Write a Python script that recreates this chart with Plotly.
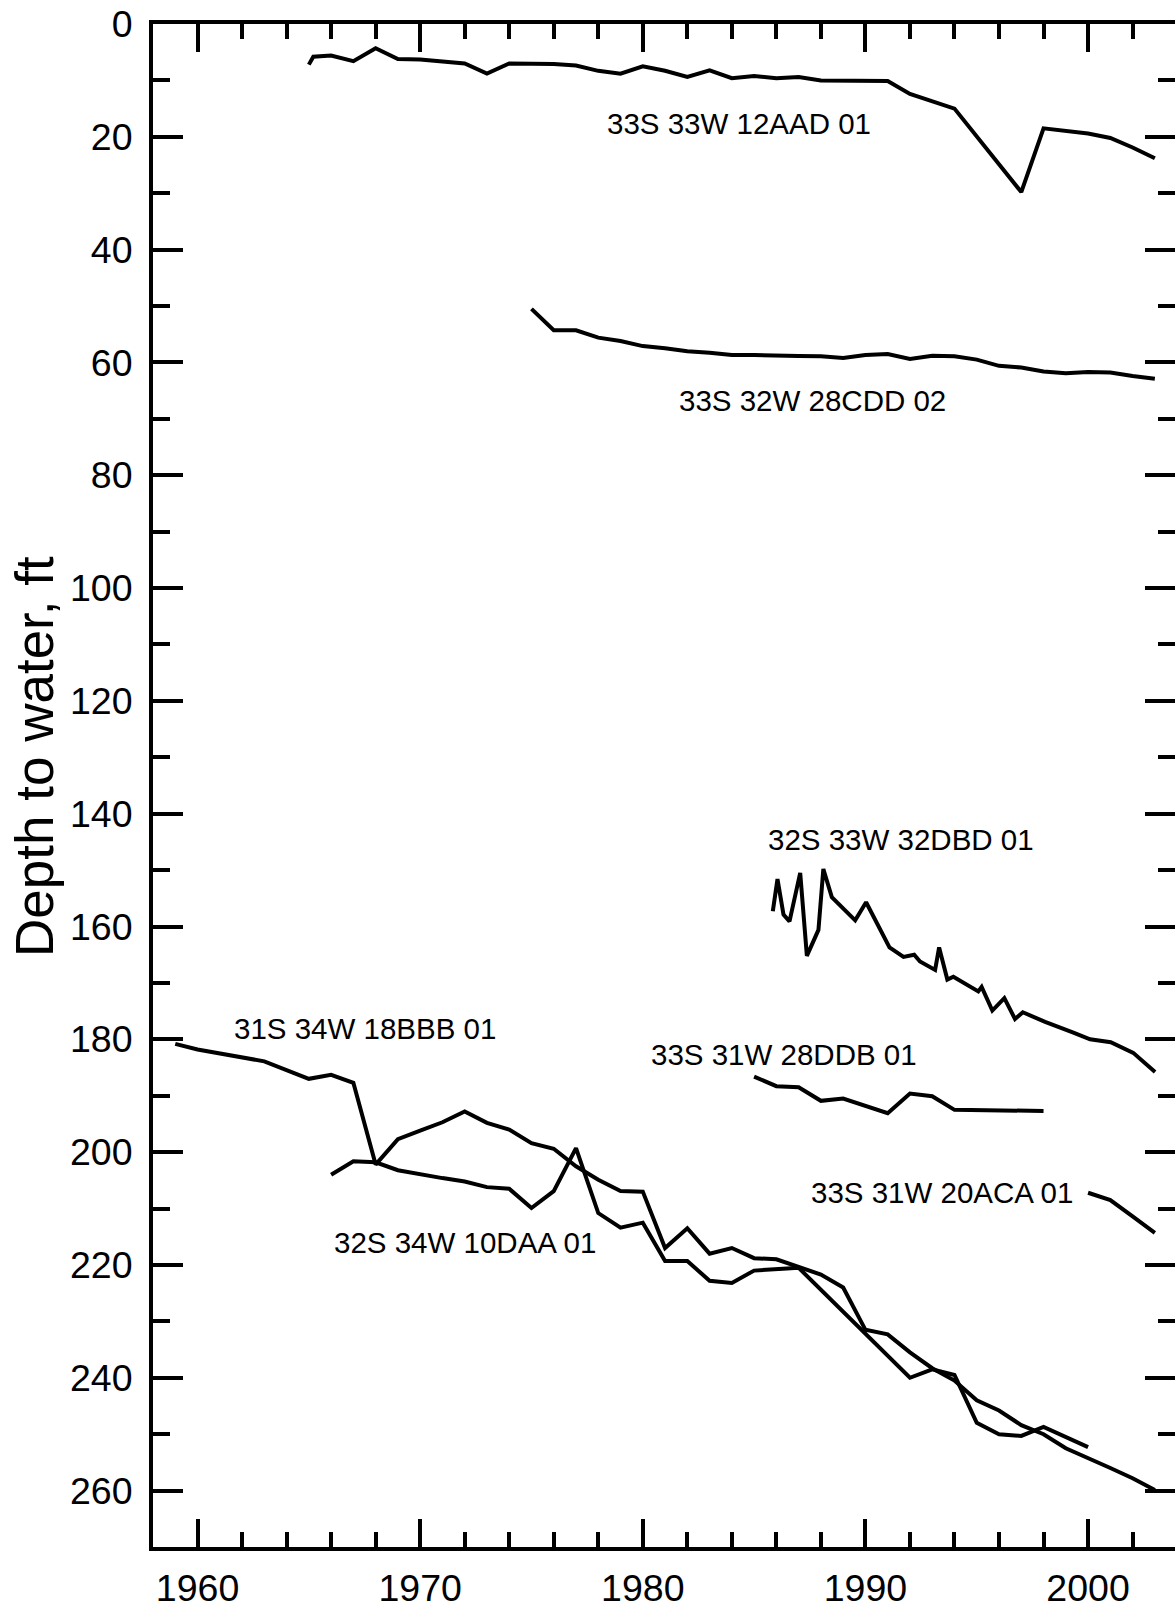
import plotly.graph_objects as go

# ---- data (year, depth to water in ft) ----
w12AAD_year = [1965.0, 1965.2, 1966, 1967, 1968, 1969, 1970, 1971, 1972, 1973, 1974, 1975, 1976, 1977,
               1978, 1979, 1980, 1981, 1982, 1983, 1984, 1985, 1986, 1987, 1988, 1991, 1992, 1994,
               1997, 1998, 1999, 2000, 2001, 2002, 2003]
w12AAD_depth = [7.2, 5.8, 5.6, 6.6, 4.3, 6.2, 6.3, 6.7, 7.0, 8.8, 7.0, 7.05, 7.1, 7.35,
                8.3, 8.8, 7.5, 8.3, 9.4, 8.2, 9.6, 9.2, 9.6, 9.4, 10.0, 10.1, 12.4, 15.0,
                29.8, 18.5, 18.9, 19.4, 20.2, 21.9, 23.8]

w28CDD_year = [1975, 1976, 1977, 1978, 1979, 1980, 1981, 1982, 1983, 1984, 1985, 1986, 1987, 1988,
               1989, 1990, 1991, 1992, 1993, 1994, 1995, 1996, 1997, 1998, 1999, 2000, 2001, 2002, 2003]
w28CDD_depth = [50.5, 54.3, 54.3, 55.6, 56.2, 57.1, 57.5, 58.0, 58.3, 58.7, 58.7, 58.7, 58.85, 58.9,
                59.2, 58.7, 58.5, 59.4, 58.8, 58.9, 59.5, 60.6, 60.9, 61.6, 61.9, 61.7, 61.8, 62.4, 62.9]

w32DBD_year = [1985.84, 1986.05, 1986.32, 1986.59, 1987.07, 1987.37, 1987.89, 1988.11, 1988.49, 1989.54,
               1990.03, 1991.08, 1991.71, 1992.19, 1992.45, 1993.13, 1993.31, 1993.68, 1993.95, 1995.07,
               1995.22, 1995.70, 1996.24, 1996.72, 1997.07, 1998.07, 1999.34, 2000.09, 2001.02, 2002.03, 2003.01]
w32DBD_depth = [157.3, 151.6, 157.9, 159.1, 150.5, 165.2, 160.6, 149.8, 154.8, 158.9,
                155.7, 163.7, 165.4, 165.0, 166.2, 167.7, 163.7, 169.4, 168.9, 171.5,
                170.7, 174.9, 172.7, 176.4, 175.2, 176.9, 178.8, 180.0, 180.5, 182.4, 185.8]

w28DDB_year = [1985, 1986, 1987, 1988, 1989, 1990, 1991, 1992, 1993, 1994, 1998]
w28DDB_depth = [186.6, 188.3, 188.5, 190.9, 190.5, 191.8, 193.1, 189.6, 190.1, 192.5, 192.7]

w20ACA_year = [2000, 2001, 2002, 2003]
w20ACA_depth = [207.2, 208.5, 211.4, 214.3]

w18BBB_year = [1959, 1960, 1963, 1965, 1966, 1967, 1968, 1969, 1970, 1971, 1972, 1973, 1974, 1975,
               1976, 1977, 1978, 1979, 1980, 1981, 1982, 1983, 1984, 1985, 1986, 1987, 1988, 1989,
               1990, 1991, 1992, 1993, 1994, 1995, 1996, 1997, 1998, 1999, 2000, 2001, 2002, 2003]
w18BBB_depth = [180.8, 181.8, 183.9, 187.0, 186.3, 187.7, 202.2, 197.7, 196.2, 194.7, 192.8, 194.8, 196.0, 198.4,
                199.4, 202.5, 204.9, 206.9, 207.0, 217.0, 213.5, 218.0, 217.0, 218.8, 219.0, 220.3, 221.7, 224.0,
                231.5, 232.3, 235.5, 238.3, 240.5, 244.0, 245.8, 248.4, 250.0, 252.5, 254.2, 256.0, 257.8, 259.9]

w10DAA_year = [1966, 1967, 1968, 1969, 1971, 1972, 1973, 1974, 1975, 1976, 1977, 1978, 1979, 1980,
               1981, 1982, 1983, 1984, 1985, 1986, 1987, 1992, 1993, 1994, 1995, 1996, 1997, 1998, 2000]
w10DAA_depth = [204.0, 201.6, 201.8, 203.2, 204.6, 205.2, 206.2, 206.5, 209.9, 206.9, 199.3, 210.8, 213.4, 212.5,
                219.3, 219.3, 222.8, 223.2, 221.0, 220.8, 220.5, 240.0, 238.5, 239.5, 248.0, 250.0, 250.3, 248.7, 252.3]

series = [
    (w12AAD_year, w12AAD_depth),
    (w28CDD_year, w28CDD_depth),
    (w32DBD_year, w32DBD_depth),
    (w28DDB_year, w28DDB_depth),
    (w20ACA_year, w20ACA_depth),
    (w18BBB_year, w18BBB_depth),
    (w10DAA_year, w10DAA_depth),
]

label_text = ["33S 33W 12AAD 01", "33S 32W 28CDD 02", "32S 33W 32DBD 01", "33S 31W 28DDB 01",
              "33S 31W 20ACA 01", "31S 34W 18BBB 01", "32S 34W 10DAA 01"]
label_x = [1984.33, 1987.63, 1991.61, 1986.33, 1993.43, 1967.53, 1972.02]
label_y = [17.6, 66.8, 144.5, 182.7, 207.2, 178.0, 216.1]

x_tickvals = [1960, 1970, 1980, 1990, 2000]
y_tickvals = [0, 20, 40, 60, 80, 100, 120, 140, 160, 180, 200, 220, 240, 260]

FONT = "Liberation Sans, Arial, sans-serif"

fig = go.Figure()
for xs, ys in series:
    fig.add_trace(go.Scatter(x=xs, y=ys, mode="lines",
                             line=dict(color="black", width=4),
                             showlegend=False, hoverinfo="skip"))

for t, x, y in zip(label_text, label_x, label_y):
    fig.add_annotation(x=x, y=y, text=t, showarrow=False,
                       font=dict(family=FONT, size=29.5, color="black"),
                       xanchor="center", yanchor="middle")

# y-axis title as rotated annotation
fig.add_annotation(xref="paper", yref="paper", x=-0.1161, y=0.519,
                   text="Depth to water, ft", textangle=-90, showarrow=False,
                   font=dict(family=FONT, size=53, color="black"),
                   xanchor="center", yanchor="middle")

L, T, B = 152.7, 23.5, 64.3
plot_w = 1175 - L
fig.update_layout(
    width=1175, height=1611,
    margin=dict(l=L, r=0, t=T, b=B, autoexpand=False),
    plot_bgcolor="white", paper_bgcolor="white",
    showlegend=False,
    xaxis=dict(range=[1958, 1958 + plot_w / 22.27], tickmode="array", tickvals=x_tickvals,
               ticks="inside", ticklen=28, tickwidth=4, tickcolor="black",
               showline=True, linecolor="black", linewidth=4, mirror="ticks",
               showgrid=False, zeroline=False, ticklabelstandoff=5,
               tickfont=dict(family=FONT, size=37.5, color="black"),
               minor=dict(dtick=2, tick0=1958, ticks="inside", ticklen=15, tickwidth=4,
                          tickcolor="black", showgrid=False)),
    yaxis=dict(range=[270, 0], tickmode="array", tickvals=y_tickvals,
               ticks="inside", ticklen=30, tickwidth=4, tickcolor="black",
               showline=True, linecolor="black", linewidth=4, mirror="ticks",
               showgrid=False, zeroline=False, ticklabelstandoff=9,
               tickfont=dict(family=FONT, size=37.5, color="black"),
               minor=dict(dtick=10, tick0=0, ticks="inside", ticklen=17, tickwidth=4,
                          tickcolor="black", showgrid=False)),
)

fig.write_html("out.html", config={"displayModeBar": False},
               post_script="document.body.style.margin='0px';document.body.style.overflow='hidden';")
